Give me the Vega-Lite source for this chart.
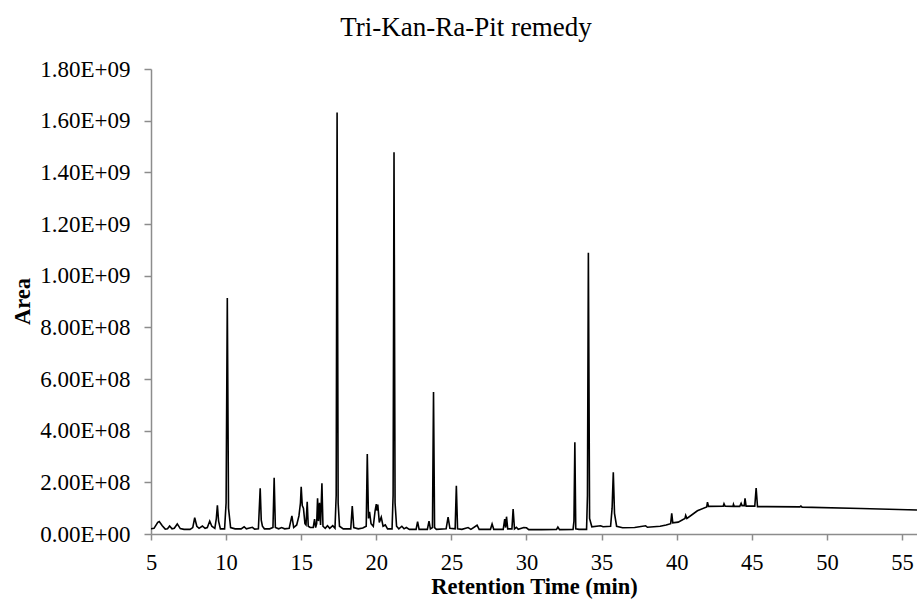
{
  "$schema": "https://vega.github.io/schema/vega-lite/v6.json",
  "autosize": "none",
  "width": 766,
  "height": 465,
  "padding": {"left": 151, "top": 69, "right": 0, "bottom": 71},
  "background": "white",
  "view": {"stroke": null},
  "title": {
    "text": "Tri-Kan-Ra-Pit remedy",
    "font": "Liberation Serif",
    "fontSize": 27,
    "fontWeight": "normal",
    "color": "black",
    "anchor": "middle",
    "baseline": "alphabetic",
    "offset": 4,
    "dx": -68,
    "dy": 9
  },
  "data": {
    "values": [
      {"t": 5.0, "area": 2.0e7}, {"t": 5.2, "area": 2.2e7}, {"t": 5.45, "area": 4.5e7}, {"t": 5.55, "area": 4.8e7},
      {"t": 5.75, "area": 3.2e7}, {"t": 5.95, "area": 1.9e7}, {"t": 6.1, "area": 2.0e7}, {"t": 6.24, "area": 3.1e7},
      {"t": 6.4, "area": 2.0e7}, {"t": 6.55, "area": 2.2e7}, {"t": 6.75, "area": 3.9e7}, {"t": 6.95, "area": 2.1e7},
      {"t": 7.2, "area": 1.8e7}, {"t": 7.6, "area": 1.8e7}, {"t": 7.78, "area": 2.5e7}, {"t": 7.91, "area": 6.3e7},
      {"t": 8.05, "area": 3.0e7}, {"t": 8.2, "area": 2.2e7}, {"t": 8.42, "area": 3.1e7}, {"t": 8.6, "area": 2.2e7},
      {"t": 8.75, "area": 2.5e7}, {"t": 8.91, "area": 5.0e7}, {"t": 9.05, "area": 3.0e7}, {"t": 9.25, "area": 2.2e7},
      {"t": 9.35, "area": 6.0e7}, {"t": 9.42, "area": 1.11e8}, {"t": 9.5, "area": 5.0e7}, {"t": 9.62, "area": 2.0e7},
      {"t": 9.9, "area": 2.0e7}, {"t": 10.0, "area": 1.2e8}, {"t": 10.08, "area": 9.14e8}, {"t": 10.16, "area": 1.0e8},
      {"t": 10.3, "area": 2.5e7}, {"t": 10.6, "area": 2.0e7}, {"t": 11.0, "area": 2.0e7}, {"t": 11.2, "area": 2.8e7},
      {"t": 11.35, "area": 2.0e7}, {"t": 11.75, "area": 2.6e7}, {"t": 11.9, "area": 1.9e7}, {"t": 12.15, "area": 2.0e7},
      {"t": 12.27, "area": 1.77e8}, {"t": 12.34, "area": 5.4e7}, {"t": 12.42, "area": 3.0e7}, {"t": 12.55, "area": 2.0e7},
      {"t": 12.9, "area": 2.0e7}, {"t": 13.12, "area": 2.5e7}, {"t": 13.2, "area": 2.18e8}, {"t": 13.28, "area": 2.5e7},
      {"t": 13.5, "area": 2.0e7}, {"t": 13.7, "area": 2.5e7}, {"t": 13.9, "area": 2.0e7}, {"t": 14.2, "area": 2.2e7},
      {"t": 14.38, "area": 7.0e7}, {"t": 14.5, "area": 2.5e7}, {"t": 14.7, "area": 3.5e7}, {"t": 14.85, "area": 7.0e7},
      {"t": 14.95, "area": 1.2e8}, {"t": 15.0, "area": 1.83e8}, {"t": 15.07, "area": 1.1e8}, {"t": 15.15, "area": 1.0e8},
      {"t": 15.25, "area": 4.0e7}, {"t": 15.32, "area": 3.5e7}, {"t": 15.4, "area": 1.25e8}, {"t": 15.47, "area": 3.0e7},
      {"t": 15.6, "area": 2.5e7}, {"t": 15.8, "area": 2.5e7}, {"t": 15.89, "area": 5.8e7}, {"t": 15.96, "area": 2.5e7},
      {"t": 16.03, "area": 4.0e7}, {"t": 16.09, "area": 1.38e8}, {"t": 16.15, "area": 5.0e7}, {"t": 16.22, "area": 1.21e8},
      {"t": 16.29, "area": 3.5e7}, {"t": 16.38, "area": 1.96e8}, {"t": 16.45, "area": 3.0e7}, {"t": 16.6, "area": 2.2e7},
      {"t": 16.75, "area": 3.2e7}, {"t": 16.9, "area": 2.2e7}, {"t": 17.1, "area": 3.2e7}, {"t": 17.25, "area": 2.2e7},
      {"t": 17.33, "area": 1.5e8}, {"t": 17.39, "area": 1.632e9}, {"t": 17.46, "area": 1.2e8}, {"t": 17.55, "area": 3.0e7},
      {"t": 17.8, "area": 2.0e7}, {"t": 18.3, "area": 2.0e7}, {"t": 18.4, "area": 1.08e8}, {"t": 18.5, "area": 2.5e7},
      {"t": 18.8, "area": 2.0e7}, {"t": 19.1, "area": 2.3e7}, {"t": 19.33, "area": 3.0e7}, {"t": 19.4, "area": 3.1e8},
      {"t": 19.48, "area": 6.0e7}, {"t": 19.55, "area": 8.6e7}, {"t": 19.65, "area": 4.0e7}, {"t": 19.8, "area": 3.0e7},
      {"t": 19.92, "area": 9.0e7}, {"t": 20.0, "area": 1.16e8}, {"t": 20.05, "area": 9.0e7}, {"t": 20.1, "area": 1.14e8},
      {"t": 20.2, "area": 4.5e7}, {"t": 20.33, "area": 6.5e7}, {"t": 20.45, "area": 3.0e7}, {"t": 20.6, "area": 3.5e7},
      {"t": 20.75, "area": 2.0e7}, {"t": 21.05, "area": 2.0e7}, {"t": 21.12, "area": 1.5e8}, {"t": 21.18, "area": 1.478e9},
      {"t": 21.25, "area": 1.2e8}, {"t": 21.35, "area": 3.0e7}, {"t": 21.5, "area": 2.0e7}, {"t": 21.7, "area": 3.0e7},
      {"t": 21.85, "area": 2.0e7}, {"t": 22.0, "area": 2.5e7}, {"t": 22.2, "area": 1.8e7}, {"t": 22.65, "area": 1.8e7},
      {"t": 22.75, "area": 4.8e7}, {"t": 22.85, "area": 1.8e7}, {"t": 23.4, "area": 1.8e7}, {"t": 23.51, "area": 5.0e7},
      {"t": 23.6, "area": 2.0e7}, {"t": 23.74, "area": 2.5e7}, {"t": 23.81, "area": 5.5e8}, {"t": 23.88, "area": 2.5e7},
      {"t": 24.0, "area": 1.8e7}, {"t": 24.65, "area": 2.0e7}, {"t": 24.78, "area": 6.5e7}, {"t": 24.9, "area": 2.2e7},
      {"t": 25.25, "area": 2.0e7}, {"t": 25.33, "area": 1.87e8}, {"t": 25.41, "area": 2.0e7}, {"t": 25.7, "area": 1.8e7},
      {"t": 26.11, "area": 2.5e7}, {"t": 26.3, "area": 1.8e7}, {"t": 26.71, "area": 3.4e7}, {"t": 26.85, "area": 1.8e7},
      {"t": 27.6, "area": 1.8e7}, {"t": 27.71, "area": 3.9e7}, {"t": 27.82, "area": 1.8e7}, {"t": 28.45, "area": 1.8e7},
      {"t": 28.55, "area": 5.8e7}, {"t": 28.61, "area": 2.5e7}, {"t": 28.67, "area": 6.7e7}, {"t": 28.75, "area": 2.0e7},
      {"t": 29.03, "area": 2.0e7}, {"t": 29.11, "area": 9.7e7}, {"t": 29.2, "area": 2.0e7}, {"t": 29.33, "area": 2.6e7},
      {"t": 29.45, "area": 1.8e7}, {"t": 29.82, "area": 2.5e7}, {"t": 30.0, "area": 2.4e7}, {"t": 30.15, "area": 1.7e7},
      {"t": 31.0, "area": 1.7e7}, {"t": 32.0, "area": 1.8e7}, {"t": 32.09, "area": 2.7e7}, {"t": 32.2, "area": 1.7e7},
      {"t": 33.1, "area": 1.8e7}, {"t": 33.16, "area": 5.0e7}, {"t": 33.22, "area": 3.55e8}, {"t": 33.28, "area": 2.0e7},
      {"t": 33.5, "area": 1.8e7}, {"t": 34.0, "area": 1.8e7}, {"t": 34.06, "area": 1.5e8}, {"t": 34.12, "area": 1.089e9},
      {"t": 34.2, "area": 6.0e7}, {"t": 34.35, "area": 2.8e7}, {"t": 34.93, "area": 3.2e7}, {"t": 35.1, "area": 2.8e7},
      {"t": 35.6, "area": 3.0e7}, {"t": 35.7, "area": 1.0e8}, {"t": 35.78, "area": 2.39e8}, {"t": 35.86, "area": 8.0e7},
      {"t": 36.0, "area": 3.0e7}, {"t": 36.4, "area": 2.4e7}, {"t": 37.2, "area": 2.5e7}, {"t": 37.93, "area": 3.2e7},
      {"t": 38.05, "area": 2.6e7}, {"t": 38.9, "area": 3.0e7}, {"t": 39.3, "area": 3.5e7}, {"t": 39.6, "area": 4.0e7},
      {"t": 39.67, "area": 8.0e7}, {"t": 39.74, "area": 4.3e7}, {"t": 40.1, "area": 4.6e7}, {"t": 40.55, "area": 6.0e7},
      {"t": 40.6, "area": 7.2e7}, {"t": 40.68, "area": 6.0e7}, {"t": 41.38, "area": 9.0e7}, {"t": 42.0, "area": 1.05e8},
      {"t": 42.05, "area": 1.23e8}, {"t": 42.12, "area": 1.07e8}, {"t": 43.1, "area": 1.08e8}, {"t": 43.15, "area": 1.17e8},
      {"t": 43.22, "area": 1.08e8}, {"t": 43.75, "area": 1.07e8}, {"t": 43.78, "area": 1.15e8}, {"t": 43.83, "area": 1.07e8},
      {"t": 44.2, "area": 1.07e8}, {"t": 44.29, "area": 1.19e8}, {"t": 44.35, "area": 1.1e8}, {"t": 44.5, "area": 1.1e8},
      {"t": 44.55, "area": 1.38e8}, {"t": 44.62, "area": 1.08e8}, {"t": 45.2, "area": 1.08e8}, {"t": 45.29, "area": 1.78e8},
      {"t": 45.38, "area": 1.06e8}, {"t": 46.0, "area": 1.06e8}, {"t": 48.2, "area": 1.05e8}, {"t": 48.27, "area": 1.08e8},
      {"t": 48.35, "area": 1.04e8}, {"t": 52.27, "area": 9.9e7}, {"t": 56.0, "area": 9.3e7}
    ]
  },
  "mark": {"type": "line", "color": "black", "strokeWidth": 1.6, "clip": true, "interpolate": "linear"},
  "encoding": {
    "x": {
      "field": "t",
      "type": "quantitative",
      "scale": {"domain": [5, 56], "nice": false, "zero": false},
      "axis": {
        "title": "Retention Time (min)",
        "values": [5, 10, 15, 20, 25, 30, 35, 40, 45, 50, 55],
        "grid": false,
        "domainColor": "#8c8c8c",
        "domainWidth": 1.5,
        "tickColor": "#8c8c8c",
        "tickWidth": 1.5,
        "tickSize": 6,
        "labelFont": "Liberation Serif",
        "labelFontSize": 22.5,
        "labelColor": "black",
        "labelPadding": 11,
        "labelFlush": false,
        "titleFont": "Liberation Serif",
        "titleFontSize": 22.5,
        "titleFontWeight": "bold",
        "titleColor": "black",
        "titleBaseline": "alphabetic",
        "titleY": 59
      }
    },
    "y": {
      "field": "area",
      "type": "quantitative",
      "scale": {"domain": [0, 1.8e9], "nice": false},
      "axis": {
        "title": "Area",
        "values": [0, 2e8, 4e8, 6e8, 8e8, 1e9, 1.2e9, 1.4e9, 1.6e9, 1.8e9],
        "labelExpr": "datum.value == 0 ? '0.00E+00' : (datum.value >= 1e9 ? format(datum.value / 1e9, '.2f') + 'E+09' : format(datum.value / 1e8, '.2f') + 'E+08')",
        "grid": false,
        "domainColor": "#8c8c8c",
        "domainWidth": 1.5,
        "tickColor": "#8c8c8c",
        "tickWidth": 1.5,
        "tickSize": 7,
        "labelFont": "Liberation Serif",
        "labelFontSize": 23,
        "labelColor": "black",
        "labelPadding": 14,
        "labelFlush": false,
        "titleFont": "Liberation Serif",
        "titleFontSize": 22.5,
        "titleFontWeight": "bold",
        "titleColor": "black",
        "titleAngle": -90,
        "titleBaseline": "middle",
        "titleX": -129,
        "titleY": 232
      }
    }
  }
}
